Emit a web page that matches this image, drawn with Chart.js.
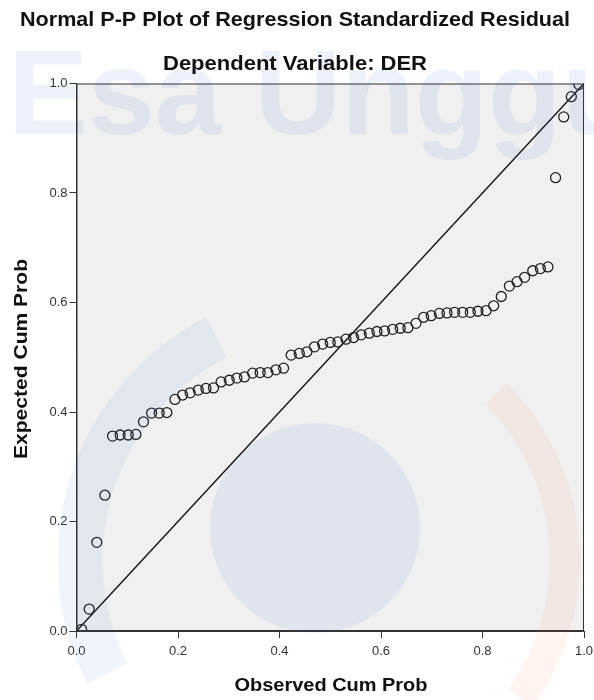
<!DOCTYPE html>
<html>
<head>
<meta charset="utf-8">
<script src="https://cdn.jsdelivr.net/npm/chart.js@4"></script>
<style>
html,body{margin:0;padding:0;background:#fff;}
#wrap{width:594px;height:700px;position:relative;}
</style>
</head>
<body>
<div id="wrap"><canvas id="c" width="594" height="700"></canvas></div>
<script>
// Data
const titleText = "Normal P-P Plot of Regression Standardized Residual";
const subtitleText = "Dependent Variable: DER";
const xAxisTitle = "Observed Cum Prob";
const yAxisTitle = "Expected Cum Prob";
const tickValues = [0.0, 0.2, 0.4, 0.6, 0.8, 1.0];
const observedCumProb = [
  0.010, 0.025, 0.040, 0.056, 0.071, 0.086, 0.102, 0.117, 0.132, 0.148,
  0.163, 0.178, 0.194, 0.209, 0.224, 0.240, 0.255, 0.270, 0.285, 0.301,
  0.316, 0.331, 0.347, 0.362, 0.377, 0.393, 0.408, 0.423, 0.439, 0.454,
  0.469, 0.485, 0.500, 0.515, 0.531, 0.546, 0.561, 0.577, 0.592, 0.607,
  0.623, 0.638, 0.653, 0.669, 0.684, 0.699, 0.715, 0.730, 0.745, 0.761,
  0.776, 0.791, 0.807, 0.822, 0.837, 0.853, 0.868, 0.883, 0.899, 0.914,
  0.929, 0.944, 0.960, 0.975, 0.990
];
const expectedCumProb = [
  0.003, 0.040, 0.162, 0.248, 0.356, 0.358, 0.358, 0.359, 0.382, 0.398,
  0.398, 0.399, 0.423, 0.431, 0.435, 0.440, 0.443, 0.444, 0.455, 0.458,
  0.462, 0.464, 0.471, 0.472, 0.472, 0.477, 0.480, 0.504, 0.507, 0.510,
  0.519, 0.524, 0.527, 0.528, 0.533, 0.536, 0.541, 0.544, 0.547, 0.548,
  0.551, 0.553, 0.554, 0.562, 0.573, 0.576, 0.580, 0.581, 0.582, 0.582,
  0.582, 0.584, 0.585, 0.594, 0.611, 0.630, 0.638, 0.646, 0.658, 0.662,
  0.665, 0.828, 0.939, 0.976, 0.998
];
const diagonal = [{x:0, y:0}, {x:1, y:1}];

const points = observedCumProb.map((x, i) => ({x: x, y: expectedCumProb[i]}));

const FONT = "'Liberation Sans', Arial, sans-serif";

// draw bold text horizontally scaled to a target width (reference text is slightly condensed)
function fitText(ctx, text, x, y, size, width) {
  ctx.font = "bold " + size + "px " + FONT;
  const w = ctx.measureText(text).width;
  ctx.save();
  ctx.translate(x, y);
  ctx.scale(width / w, 1);
  ctx.fillText(text, 0, 0);
  ctx.restore();
}

const decorPlugin = {
  id: 'decor',
  beforeDraw(chart) {
    const ctx = chart.ctx, a = chart.chartArea;
    ctx.save();
    ctx.fillStyle = '#ffffff';
    ctx.fillRect(0, 0, chart.width, chart.height);
    ctx.fillStyle = '#f0f0f0';
    ctx.fillRect(a.left, a.top, a.right - a.left, a.bottom - a.top);
    ctx.restore();
  },
  afterDatasetsDraw(chart) {
    const ctx = chart.ctx, a = chart.chartArea;
    ctx.save();
    ctx.strokeStyle = '#333';
    ctx.lineWidth = 1;
    ctx.strokeRect(a.left + 0.5, a.top + 0.5, a.right - a.left - 1, a.bottom - a.top - 1);
    ctx.restore();
  },
  afterDraw(chart) {
    const ctx = chart.ctx, a = chart.chartArea;
    ctx.save();
    // faint watermark of the source image
    ctx.fillStyle = 'rgba(40,95,200,0.09)';
    ctx.font = "bold 120px " + FONT;
    ctx.textBaseline = 'alphabetic';
    ctx.textAlign = 'left';
    ctx.fillText('Esa Unggul', 8, 134);
    ctx.fillStyle = 'rgba(40,95,200,0.08)';
    ctx.beginPath();
    ctx.arc(315, 528, 105, 0, Math.PI * 2);
    ctx.fill();
    ctx.lineWidth = 45;
    ctx.strokeStyle = 'rgba(40,95,200,0.07)';
    ctx.beginPath();
    ctx.arc(330, 560, 250, Math.PI * 0.85, Math.PI * 1.35);
    ctx.stroke();
    ctx.strokeStyle = 'rgba(240,130,80,0.08)';
    ctx.lineWidth = 30;
    ctx.beginPath();
    ctx.arc(330, 560, 235, -Math.PI * 0.25, Math.PI * 0.2);
    ctx.stroke();
    ctx.restore();

    ctx.save();
    ctx.fillStyle = '#111';
    ctx.textAlign = 'center';
    ctx.textBaseline = 'middle';
    fitText(ctx, titleText, 295, 20, 21, 550);
    fitText(ctx, subtitleText, 295, 64, 21, 264);
    fitText(ctx, xAxisTitle, 331, 686, 19, 193);
    ctx.save();
    ctx.translate(22, 359);
    ctx.rotate(-Math.PI / 2);
    fitText(ctx, yAxisTitle, 0, 0, 19, 200);
    ctx.restore();
    ctx.restore();
  }
};

const axisCommon = {
  type: 'linear',
  min: 0, max: 1,
  afterBuildTicks(scale) { scale.ticks = tickValues.map(v => ({value: v})); },
  ticks: {
    callback: v => Number(v).toFixed(1),
    color: '#333',
    font: {family: FONT, size: 13},
    padding: 2,
    autoSkip: false,
    maxRotation: 0
  },
  grid: {display: true, drawOnChartArea: false, drawTicks: true, tickLength: 7, color: '#333', lineWidth: 1},
  border: {display: true, color: '#333', width: 1}
};

new Chart(document.getElementById('c'), {
  type: 'scatter',
  data: {
    datasets: [
      {
        type: 'line',
        data: diagonal,
        borderColor: '#111',
        borderWidth: 1.4,
        pointRadius: 0,
        fill: false,
        clip: 0,
        order: 2
      },
      {
        type: 'scatter',
        data: points,
        pointRadius: 5,
        pointBorderWidth: 1.3,
        pointBorderColor: '#222',
        pointBackgroundColor: 'rgba(0,0,0,0)',
        clip: 0,
        order: 1
      }
    ]
  },
  options: {
    responsive: false,
    animation: false,
    devicePixelRatio: 1,
    layout: {padding: {left: 0, right: 10, top: 83.5, bottom: 0}},
    plugins: {legend: {display: false}, tooltip: {enabled: false}, title: {display: false}},
    scales: {
      x: Object.assign({}, axisCommon, {
        position: 'bottom',
        ticks: Object.assign({}, axisCommon.ticks, {padding: 6}),
        afterFit(scale) { scale.height = 69; scale.paddingLeft = 0; scale.paddingRight = 0; }
      }),
      y: Object.assign({}, axisCommon, {
        position: 'left',
        afterFit(scale) { scale.width = 76.5; scale.paddingTop = 0; scale.paddingBottom = 0; }
      })
    }
  },
  plugins: [decorPlugin]
});
</script>
</body>
</html>
